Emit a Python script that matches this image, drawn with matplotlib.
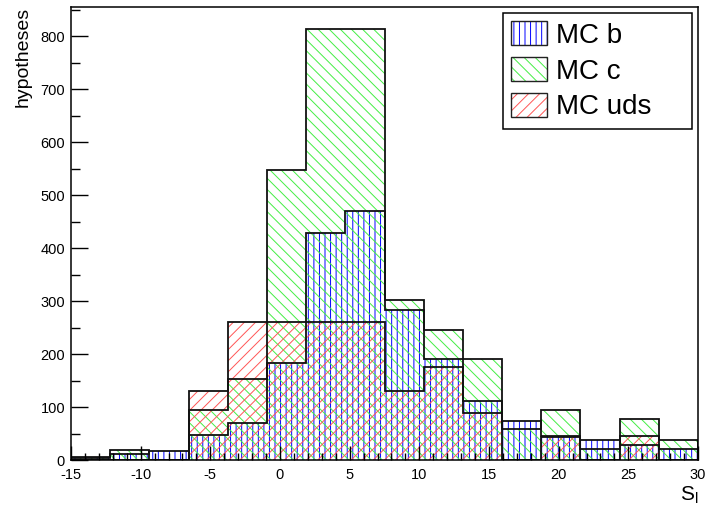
import numpy as np
import matplotlib
matplotlib.use("Agg")
import matplotlib.pyplot as plt
from matplotlib.patches import Patch
from matplotlib.ticker import MultipleLocator

plt.rcParams['font.family'] = ['Liberation Sans', 'DejaVu Sans']
plt.rcParams['axes.unicode_minus'] = False
plt.rcParams['hatch.linewidth'] = 0.7

# histogram binning (16 bins from -15 to 30)
x_min, x_max, n_bins = -15, 30, 16
edges = np.linspace(x_min, x_max, n_bins + 1)

# entries per bin
mc_b = [5, 11, 17, 48, 70, 183, 428, 470, 284, 190, 112, 73, 46, 38, 28, 20]
mc_c = [4, 18, 0, 94, 152, 548, 813, 813, 302, 245, 190, 58, 95, 20, 77, 38]
mc_uds = [0, 0, 0, 130, 260, 260, 260, 260, 130, 175, 88, 0, 43, 0, 45, 0]

labels = ["MC b", "MC c", "MC uds"]
colors = ["#0000ff", "#44ee44", "#ff5555"]
hatches = ["|||", "\\\\\\", "///"]

fig = plt.figure(figsize=(7.08, 5.07), dpi=100)
ax = fig.add_axes([71/708, 1 - 460/507, 627/708, 453/507])

handles = []
for vals, col, h, lab in zip([mc_b, mc_c, mc_uds], colors, hatches, labels):
    ax.stairs(vals, edges, baseline=0, fill=True, facecolor="none",
              edgecolor=col, hatch=h, linewidth=0)
    handles.append((Patch(facecolor="none", edgecolor=col, hatch=h, linewidth=0),
                    Patch(facecolor="none", edgecolor="#222222", linewidth=1.0)))
for vals in [mc_b, mc_c, mc_uds]:
    ax.stairs(vals, edges, baseline=0, color="#111111", linewidth=1.3)

ax.set_xlim(x_min, x_max)
ax.set_ylim(0, 855)
ax.xaxis.set_major_locator(MultipleLocator(5))
ax.xaxis.set_minor_locator(MultipleLocator(1))
ax.yaxis.set_major_locator(MultipleLocator(100))
ax.yaxis.set_minor_locator(MultipleLocator(50))
ax.tick_params(axis="both", which="both", direction="in", top=False, right=False,
               labelsize=10.5, width=1)
ax.tick_params(axis="x", which="major", length=10, pad=5.5)
ax.tick_params(axis="x", which="minor", length=5)
ax.tick_params(axis="y", which="major", length=12, pad=4.3)
ax.tick_params(axis="y", which="minor", length=6.5)
for s in ax.spines.values():
    s.set_linewidth(1.1)

ax.set_ylabel("hypotheses", fontsize=14, loc="top", labelpad=6)
ax.set_xlabel(r"S$_{\mathregular{l}}$", fontsize=15, loc="right", labelpad=2)

leg = ax.legend(handles, labels, loc="upper left", mode="expand",
                bbox_to_anchor=(0.689, 0.748, 0.301, 0.239),
                fontsize=20, fancybox=False, edgecolor="black", framealpha=1,
                handlelength=1.3, handleheight=0.95, handletextpad=0.3,
                labelspacing=0.3, borderpad=0.3, borderaxespad=0)
leg.get_frame().set_linewidth(1.1)

fig.savefig("out.png", dpi=100)
